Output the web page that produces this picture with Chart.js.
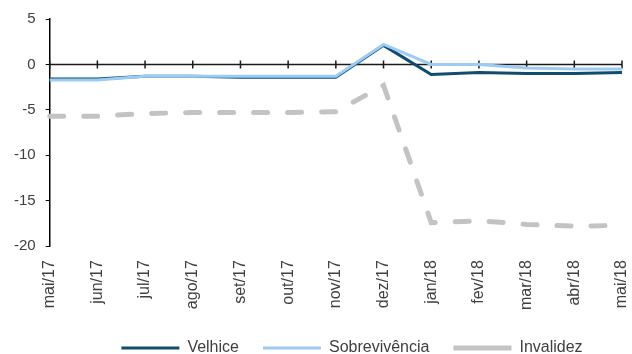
<!DOCTYPE html>
<html>
<head>
<meta charset="utf-8">
<script src="https://cdn.jsdelivr.net/npm/chart.js@4.4.1/dist/chart.umd.min.js"></script>
<style>
  html, body { margin: 0; padding: 0; background: #fff; }
  #wrap { width: 632px; height: 354px; }
</style>
</head>
<body>
<div id="wrap"><canvas id="myChart" width="632" height="354"></canvas></div>
<script>
// data
const months = ['mai/17', 'jun/17', 'jul/17', 'ago/17', 'set/17', 'out/17', 'nov/17',
                'dez/17', 'jan/18', 'fev/18', 'mar/18', 'abr/18', 'mai/18'];
const velhice = [-1.6, -1.6, -1.3, -1.3, -1.4, -1.4, -1.4, 2.1, -1.1, -0.9, -1.0, -1.0, -0.9];
const sobrevivencia = [-1.7, -1.7, -1.3, -1.3, -1.3, -1.3, -1.3, 2.2, 0.0, 0.0, -0.4, -0.5, -0.5];
const invalidez = [-5.7, -5.7, -5.4, -5.3, -5.3, -5.3, -5.2, -2.3, -17.4, -17.2, -17.6, -17.8, -17.7];
const yTicks = [5, 0, -5, -10, -15, -20];

const FONT = 'Liberation Sans, Arial, sans-serif';
const TXT = '#404040';

// x axis drawn through zero with ticks crossing the line
const zeroAxis = {
  id: 'zeroAxis',
  beforeDatasetsDraw(chart) {
    const { ctx, chartArea, scales: { x, y } } = chart;
    const y0 = y.getPixelForValue(0);
    ctx.save();
    ctx.strokeStyle = '#1a1a1a';
    ctx.lineWidth = 1.5;
    ctx.beginPath();
    ctx.moveTo(chartArea.left, y0);
    ctx.lineTo(chartArea.right, y0);
    months.forEach((m, i) => {
      const px = x.getPixelForValue(i);
      ctx.moveTo(px, y0 - 4);
      ctx.lineTo(px, y0 + 4);
    });
    ctx.stroke();
    ctx.restore();
  }
};

// nudge the legend to where it sits in the original
const legendShift = {
  id: 'legendShift',
  afterLayout(chart) {
    const lg = chart.legend;
    lg.left += 34; lg.right += 34;
  }
};

const ctx = document.getElementById('myChart').getContext('2d');
new Chart(ctx, {
  type: 'line',
  data: {
    labels: months,
    datasets: [{
      label: 'Velhice',
      data: velhice,
      borderColor: '#0f4c6d',
      backgroundColor: '#0f4c6d',
      borderWidth: 3,
      order: 2
    }, {
      label: 'Sobrevivência',
      data: sobrevivencia,
      borderColor: '#9ccbf4',
      backgroundColor: '#9ccbf4',
      borderWidth: 3,
      order: 1
    }, {
      label: 'Invalidez',
      data: invalidez,
      borderColor: '#c3c3c3',
      backgroundColor: '#c3c3c3',
      borderWidth: 5,
      borderDash: [14, 20],
      borderCapStyle: 'round',
      order: 3
    }]
  },
  options: {
    responsive: false,
    animation: false,
    layout: { padding: { top: 18, right: 0, left: 4, bottom: -12 } },
    elements: { point: { radius: 0 }, line: { tension: 0 } },
    plugins: {
      tooltip: { enabled: false },
      legend: {
        position: 'bottom',
        labels: {
          font: { family: FONT, size: 16 },
          color: TXT,
          usePointStyle: true,
          pointStyle: 'line',
          pointStyleWidth: 58,
          padding: 24,
          sort: (a, b) => a.datasetIndex - b.datasetIndex
        }
      }
    },
    scales: {
      x: {
        offset: false,
        grid: { display: false },
        border: { display: false },
        afterFit: (scale) => { scale.paddingRight = 10; },
        ticks: {
          font: { family: FONT, size: 16 },
          color: TXT,
          maxRotation: 90,
          minRotation: 90,
          autoSkip: false,
          padding: 6
        }
      },
      y: {
        min: -20,
        max: 5,
        afterBuildTicks: (axis) => { axis.ticks = yTicks.map(v => ({ value: v })); },
        grid: { drawOnChartArea: false, drawTicks: true, tickLength: 4, color: '#000' },
        border: { display: true, color: '#000', width: 1.5 },
        ticks: {
          font: { family: FONT, size: 15 },
          color: TXT,
          padding: 10
        }
      }
    }
  },
  plugins: [zeroAxis, legendShift]
});
</script>
</body>
</html>
